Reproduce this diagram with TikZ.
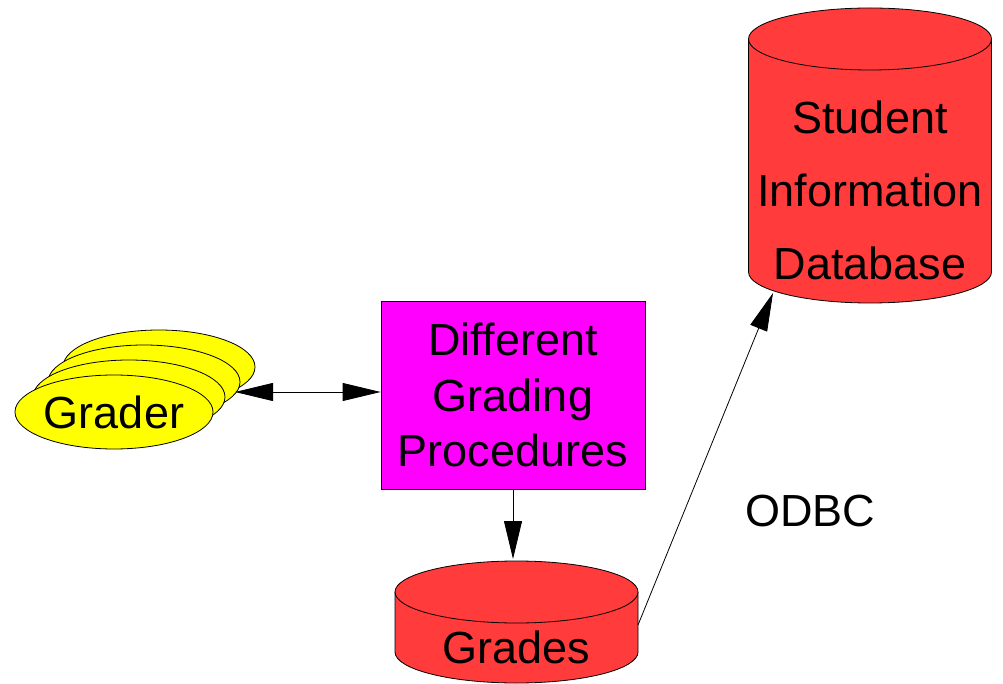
\documentclass[tikz,border=0pt]{standalone}
\usepackage{fontspec}
\setmainfont{Liberation Sans}
\usetikzlibrary{arrows.meta,shapes.geometric}
\definecolor{dbred}{RGB}{255,59,59}
\definecolor{procmag}{RGB}{255,0,255}
\definecolor{gradeyel}{RGB}{255,255,0}
\begin{document}
\begin{tikzpicture}[x=1pt,y=1pt,
  txt/.style={font=\fontsize{45}{55.5}\selectfont, align=center, inner sep=0pt},
  grader/.style={ellipse, draw, fill=gradeyel, line width=0.8pt, minimum width=192pt, minimum height=74pt, inner sep=0pt, font=\fontsize{45}{55.5}\selectfont},
  procbox/.style={draw, fill=procmag, line width=0.8pt, minimum width=264pt, minimum height=188pt, inner sep=0pt, align=center, font=\fontsize{45}{55.5}\selectfont},
  cylfill/.style={fill=dbred},
  cylline/.style={draw, line width=0.8pt},
  conn/.style={-{Triangle[length=38pt,width=18pt]}, line width=0.8pt},
  dconn/.style={{Triangle[length=38pt,width=18pt]}-{Triangle[length=38pt,width=18pt]}, line width=0.8pt}]
\useasboundingbox (0,0) rectangle (1003,683);

% Grader stack
\node[grader] (g4) at (159,316) {};
\node[grader] (g3) at (144,301) {};
\node[grader] (g2) at (129,286) {};
\node[grader] (g1) at (114,271) {Grader};

% Procedures box
\node[procbox] (proc) at (513,288) {Different\\Grading\\Procedures};

% Grades cylinder
\fill[cylfill] (395,91) -- (395,31) arc[start angle=180,end angle=360,x radius=121.5pt,y radius=31pt] -- (638,91) -- cycle;
\draw[cylline] (395,91) -- (395,31) arc[start angle=180,end angle=360,x radius=121.5pt,y radius=31pt] -- (638,91);
\filldraw[cylfill, cylline] (516.5,91) ellipse[x radius=121.5pt,y radius=31pt];
\node[txt] (grades) at (516.5,36) {Grades};

% Student Information Database cylinder
\fill[cylfill] (748.5,644) -- (748.5,411) arc[start angle=180,end angle=360,x radius=121.5pt,y radius=31pt] -- (991.5,644) -- cycle;
\draw[cylline] (748.5,644) -- (748.5,411) arc[start angle=180,end angle=360,x radius=121.5pt,y radius=31pt] -- (991.5,644);
\filldraw[cylfill, cylline] (870,644) ellipse[x radius=121.5pt,y radius=31pt];
\node[txt, font=\fontsize{45}{73}\selectfont] (sid) at (870,493) {Student\\Information\\Database};

% ODBC label
\node[txt] (odbc) at (810,172) {ODBC};

% connector end points
\coordinate (gR) at (235,291);
\coordinate (grTop) at (516.5,124);
\coordinate (grRight) at (638,58);
\coordinate (sidBot) at (773,390);

% connectors
\draw[dconn] (gR) -- (proc.west |- gR);
\draw[conn] (proc.south) -- (proc.south |- grTop);
\draw[conn] (grRight) -- (sidBot);
\end{tikzpicture}
\end{document}
